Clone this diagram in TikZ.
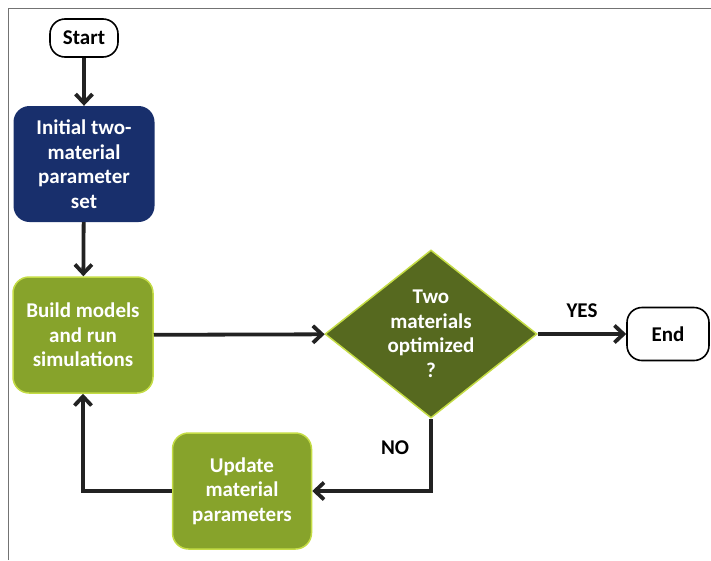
\documentclass[tikz,border=0pt]{standalone}
\usepackage{fontspec}
\setmainfont{Carlito}
\usepackage{tikz}
\usetikzlibrary{shapes,arrows.meta,positioning,calc}
\definecolor{mnavy}{HTML}{182F6C}
\definecolor{mgreen}{HTML}{87A32B}
\definecolor{molive}{HTML}{56691F}
\definecolor{mlime}{HTML}{C4DC45}
\definecolor{mline}{HTML}{222222}
\tikzstyle{l1}=[line width=3.8pt, draw=mline]
\tikzstyle{arr}=[l1, -{Straight Barb[length=9pt, width=17pt]}]
\tikzstyle{txt}=[font=\fontsize{21}{24.5}\selectfont\bfseries, align=center, inner sep=0pt]
\tikzstyle{term}=[txt, rectangle, draw=black, line width=1.6pt, fill=white, rounded corners=15pt]
\tikzstyle{bnode}=[txt, rectangle, text=white, rounded corners=16pt, minimum width=140pt, minimum height=116pt]
\tikzstyle{gnode}=[bnode, fill=mgreen, draw=mlime, line width=1.5pt]
\tikzstyle{dnode}=[txt, diamond, text=white, fill=molive, draw=mlime, line width=1.5pt, aspect=1.26, minimum width=212pt, minimum height=168pt]

\begin{document}
\begin{tikzpicture}[x=1pt, y=-1pt]
    \useasboundingbox (0,0) rectangle (711,560);
    \draw[line width=1pt, draw=gray!90!black] (8,560) -- (8,8) -- (711,8);

    \node[term, minimum width=68pt, minimum height=38pt] at (84,38) (start) {Start};
    \node[bnode, fill=mnavy, minimum width=141pt] at (84,164) (init) {Initial two-\\material\\parameter\\set};
    \node[gnode] at (83,335) (build) {Build models\\and run\\simulations};
    \node[dnode] at (431,334) (test) {Two\\materials\\optimized\\?};
    \node[term, minimum width=82pt, minimum height=53pt] at (668,334) (done) {End};
    \node[gnode, minimum width=139pt] at (242,491) (update) {Update\\material\\parameters};

    \draw[arr] (start) -- (init);
    \draw[arr] (init) -- (build);
    \draw[arr] (build) -- (test);
    \draw[arr] (test) -- node[txt, above=14pt, text=black] {YES} (done);
    \draw[arr] (test.south) |- node[txt, pos=0.2, left=20pt, text=black] {NO} (update.east);
    \draw[arr] (update.west) -| (build.south);
\end{tikzpicture}
\end{document}
